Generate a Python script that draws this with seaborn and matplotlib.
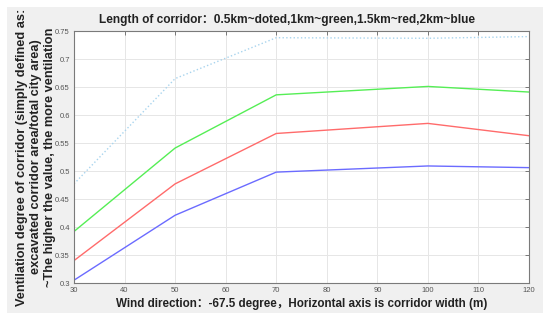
import numpy as np
import pandas as pd
import seaborn as sns
import matplotlib.pyplot as plt
from matplotlib.patches import Rectangle

width = [30, 50, 70, 100, 120]
dotted_05km = [0.477, 0.665, 0.738, 0.737, 0.740]
green_1km = [0.392, 0.541, 0.636, 0.651, 0.641]
red_15km = [0.340, 0.477, 0.567, 0.585, 0.563]
blue_2km = [0.305, 0.421, 0.498, 0.509, 0.506]

xticks = [30, 40, 50, 60, 70, 80, 90, 100, 110, 120]
yticks = [0.3, 0.35, 0.4, 0.45, 0.5, 0.55, 0.6, 0.65, 0.7, 0.75]
ytick_labels = ['0.3', '0.35', '0.4', '0.45', '0.5', '0.55', '0.6', '0.65', '0.7', '0.75']

sns.set_style('white')
plt.rcParams['font.family'] = ['Liberation Sans', 'Noto Sans CJK SC', 'DejaVu Sans']

fig = plt.figure(figsize=(5.5, 3.22), dpi=100)
fig.patch.set_facecolor('white')
fig.patches.append(Rectangle((7 / 550, 9 / 322), 536 / 550, 306 / 322,
                             transform=fig.transFigure, facecolor='#f0f0f0',
                             edgecolor='none', zorder=-10))
ax = fig.add_axes([74 / 550, 39 / 322, 455 / 550, 252 / 322])
ax.set_facecolor('white')

series = [
    (dotted_05km, '#a8d4ee', ':', 1.0),
    (green_1km, '#55ee55', '-', 1.0),
    (red_15km, '#ff6b6b', '-', 1.0),
    (blue_2km, '#6b6bff', '-', 1.0),
]
for vals, color, ls, lw in series:
    df = pd.DataFrame({'width': width, 'value': vals})
    sns.lineplot(data=df, x='width', y='value', color=color, linestyle=ls,
                 linewidth=lw, ax=ax)

ax.set_xlim(30, 120)
ax.set_ylim(0.3, 0.75)
ax.set_xticks(xticks)
ax.set_yticks(yticks)
ax.set_yticklabels(ytick_labels)
ax.grid(True, color='#e6e6e6', linewidth=0.7)
ax.tick_params(axis='both', direction='in', labelsize=5.5, labelcolor='#555555',
               color='#666666', length=3, top=True, right=True, width=0.6, pad=3)
for s in ax.spines.values():
    s.set_color('#7a7a7a')
    s.set_linewidth(0.8)

ax.set_title('Length of corridor：0.5km~doted,1km~green,1.5km~red,2km~blue',
             fontsize=8.6, fontweight='bold', color='#222222', pad=6, x=0.468)
ax.set_xlabel('Wind direction：-67.5 degree，Horizontal axis is corridor width (m)',
              fontsize=8.4, fontweight='bold', color='#222222', labelpad=3)
ax.set_ylabel('Ventilation degree of corridor (simply defined as:\n'
              'excavated corridor area/total city area)\n'
              '~The higher the value, the more ventilation',
              fontsize=9.2, fontweight='bold', color='#222222',
              linespacing=1.2)
ax.yaxis.set_label_coords(-0.040, 0.5)

fig.savefig('out.png', dpi=100)
